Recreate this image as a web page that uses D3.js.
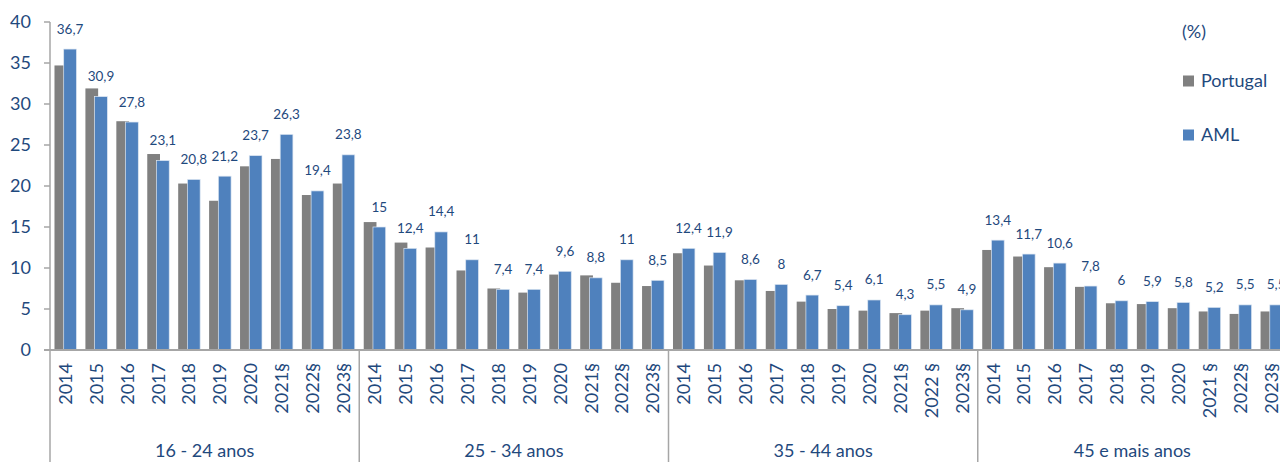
<!DOCTYPE html>
<html>
<head>
<meta charset="utf-8">
<style>
  body { margin: 0; background: #fff; }
  text { font-family: Lato, "Open Sans", sans-serif; fill: #1F497D; }
</style>
<script src="https://d3js.org/d3.v7.min.js"></script>
</head>
<body>
<div id="chart"></div>
<script>
// age groups and the year labels under each group
const groups = ["16 - 24 anos", "25 - 34 anos", "35 - 44 anos", "45 e mais anos"];
const yearLabels = [
  ["2014", "2015", "2016", "2017", "2018", "2019", "2020", "2021§", "2022§", "2023§"],
  ["2014", "2015", "2016", "2017", "2018", "2019", "2020", "2021§", "2022§", "2023§"],
  ["2014", "2015", "2016", "2017", "2018", "2019", "2020", "2021§", "2022 §", "2023§"],
  ["2014", "2015", "2016", "2017", "2018", "2019", "2020", "2021 §", "2022§", "2023§"]
];
const portugal = [
  34.7, 31.9, 27.9, 23.9, 20.3, 18.2, 22.4, 23.3, 18.9, 20.3,
  15.6, 13.1, 12.5, 9.7, 7.5, 7.0, 9.2, 9.1, 8.2, 7.8,
  11.8, 10.3, 8.5, 7.2, 5.9, 5.0, 4.8, 4.5, 4.8, 5.1,
  12.2, 11.4, 10.1, 7.7, 5.7, 5.6, 5.1, 4.7, 4.4, 4.7
];
const aml = [
  36.7, 30.9, 27.8, 23.1, 20.8, 21.2, 23.7, 26.3, 19.4, 23.8,
  15, 12.4, 14.4, 11, 7.4, 7.4, 9.6, 8.8, 11, 8.5,
  12.4, 11.9, 8.6, 8, 6.7, 5.4, 6.1, 4.3, 5.5, 4.9,
  13.4, 11.7, 10.6, 7.8, 6, 5.9, 5.8, 5.2, 5.5, 5.5
];
const yTicks = [0, 5, 10, 15, 20, 25, 30, 35, 40];

const width = 1280, height = 462;
const left = 50, plotRight = 1287, plotTop = 22, bottom = 350;

const rows = [];
groups.forEach((g, gi) => {
  yearLabels[gi].forEach((yr, yi) => {
    const i = gi * 10 + yi;
    rows.push({key: i, group: g, year: yr, pt: portugal[i], aml: aml[i]});
  });
});

const svg = d3.select("#chart").append("svg")
  .attr("width", width).attr("height", height);

const x = d3.scaleBand()
  .domain(rows.map(d => d.key))
  .range([left, plotRight])
  .paddingInner(0.29)
  .paddingOuter(0.145);

const gx = d3.scaleBand()
  .domain(d3.range(groups.length))
  .range([left, plotRight]);

const y = d3.scaleLinear().domain([0, 40]).range([bottom, plotTop]);

const bw = x.bandwidth();
const barW = bw * 0.58;

// y axis
svg.append("line")
  .attr("x1", left).attr("x2", left)
  .attr("y1", y(40)).attr("y2", bottom)
  .attr("stroke", "#A6A6A6").attr("stroke-width", 1.5);

svg.selectAll(".ytick").data(yTicks).enter().append("line")
  .attr("x1", left - 6).attr("x2", left)
  .attr("y1", d => y(d)).attr("y2", d => y(d))
  .attr("stroke", "#A6A6A6").attr("stroke-width", 1.5);

svg.selectAll(".ylab").data(yTicks).enter().append("text")
  .attr("x", 31).attr("y", d => y(d))
  .attr("dy", "0.35em")
  .attr("text-anchor", "end")
  .style("font-size", "18px")
  .text(d => d);

// bars
svg.selectAll(".pt").data(rows).enter().append("rect")
  .attr("x", d => x(d.key))
  .attr("y", d => y(d.pt))
  .attr("width", barW)
  .attr("height", d => bottom - y(d.pt))
  .attr("fill", "#808080");

svg.selectAll(".aml").data(rows).enter().append("rect")
  .attr("x", d => x(d.key) + bw - barW)
  .attr("y", d => y(d.aml))
  .attr("width", barW)
  .attr("height", d => bottom - y(d.aml))
  .attr("fill", "#4F81BD")
  .attr("stroke", "#DCE6F2")
  .attr("stroke-width", 0.7);

// value labels over AML bars
svg.selectAll(".val").data(rows).enter().append("text")
  .attr("x", d => x(d.key) + bw - barW / 2)
  .attr("y", d => y(d.aml) - 15.5)
  .attr("text-anchor", "middle")
  .style("font-size", "13.5px")
  .text(d => String(d.aml).replace(".", ","));

// x axis baseline
svg.append("line")
  .attr("x1", left - 6).attr("x2", width)
  .attr("y1", bottom).attr("y2", bottom)
  .attr("stroke", "#A6A6A6").attr("stroke-width", 2);

// group separators
svg.selectAll(".sep").data(d3.range(groups.length + 1)).enter().append("line")
  .attr("x1", d => left + d * gx.bandwidth())
  .attr("x2", d => left + d * gx.bandwidth())
  .attr("y1", bottom).attr("y2", height)
  .attr("stroke", "#A6A6A6").attr("stroke-width", 1.5);

// year labels
svg.selectAll(".yr").data(rows).enter().append("text")
  .attr("transform", d => `translate(${x(d.key) + bw / 2},${bottom + 13}) rotate(-90)`)
  .attr("dy", "0.35em")
  .attr("text-anchor", "end")
  .style("font-size", "18px")
  .text(d => d.year);

// group labels
svg.selectAll(".grp").data(groups).enter().append("text")
  .attr("x", (d, i) => gx(i) + gx.bandwidth() / 2)
  .attr("y", 457)
  .attr("text-anchor", "middle")
  .style("font-size", "18px")
  .text(d => d);

// legend
svg.append("text")
  .attr("x", 1182).attr("y", 38)
  .style("font-size", "18px")
  .text("(%)");

const legend = [["Portugal", "#808080", 81], ["AML", "#4F81BD", 135]];
legend.forEach(([name, color, cy]) => {
  svg.append("rect")
    .attr("x", 1183).attr("y", cy - 5.5)
    .attr("width", 11).attr("height", 11)
    .attr("fill", color);
  svg.append("text")
    .attr("x", 1201).attr("y", cy)
    .attr("dy", "0.35em")
    .style("font-size", "18px")
    .text(name);
});
</script>
</body>
</html>
